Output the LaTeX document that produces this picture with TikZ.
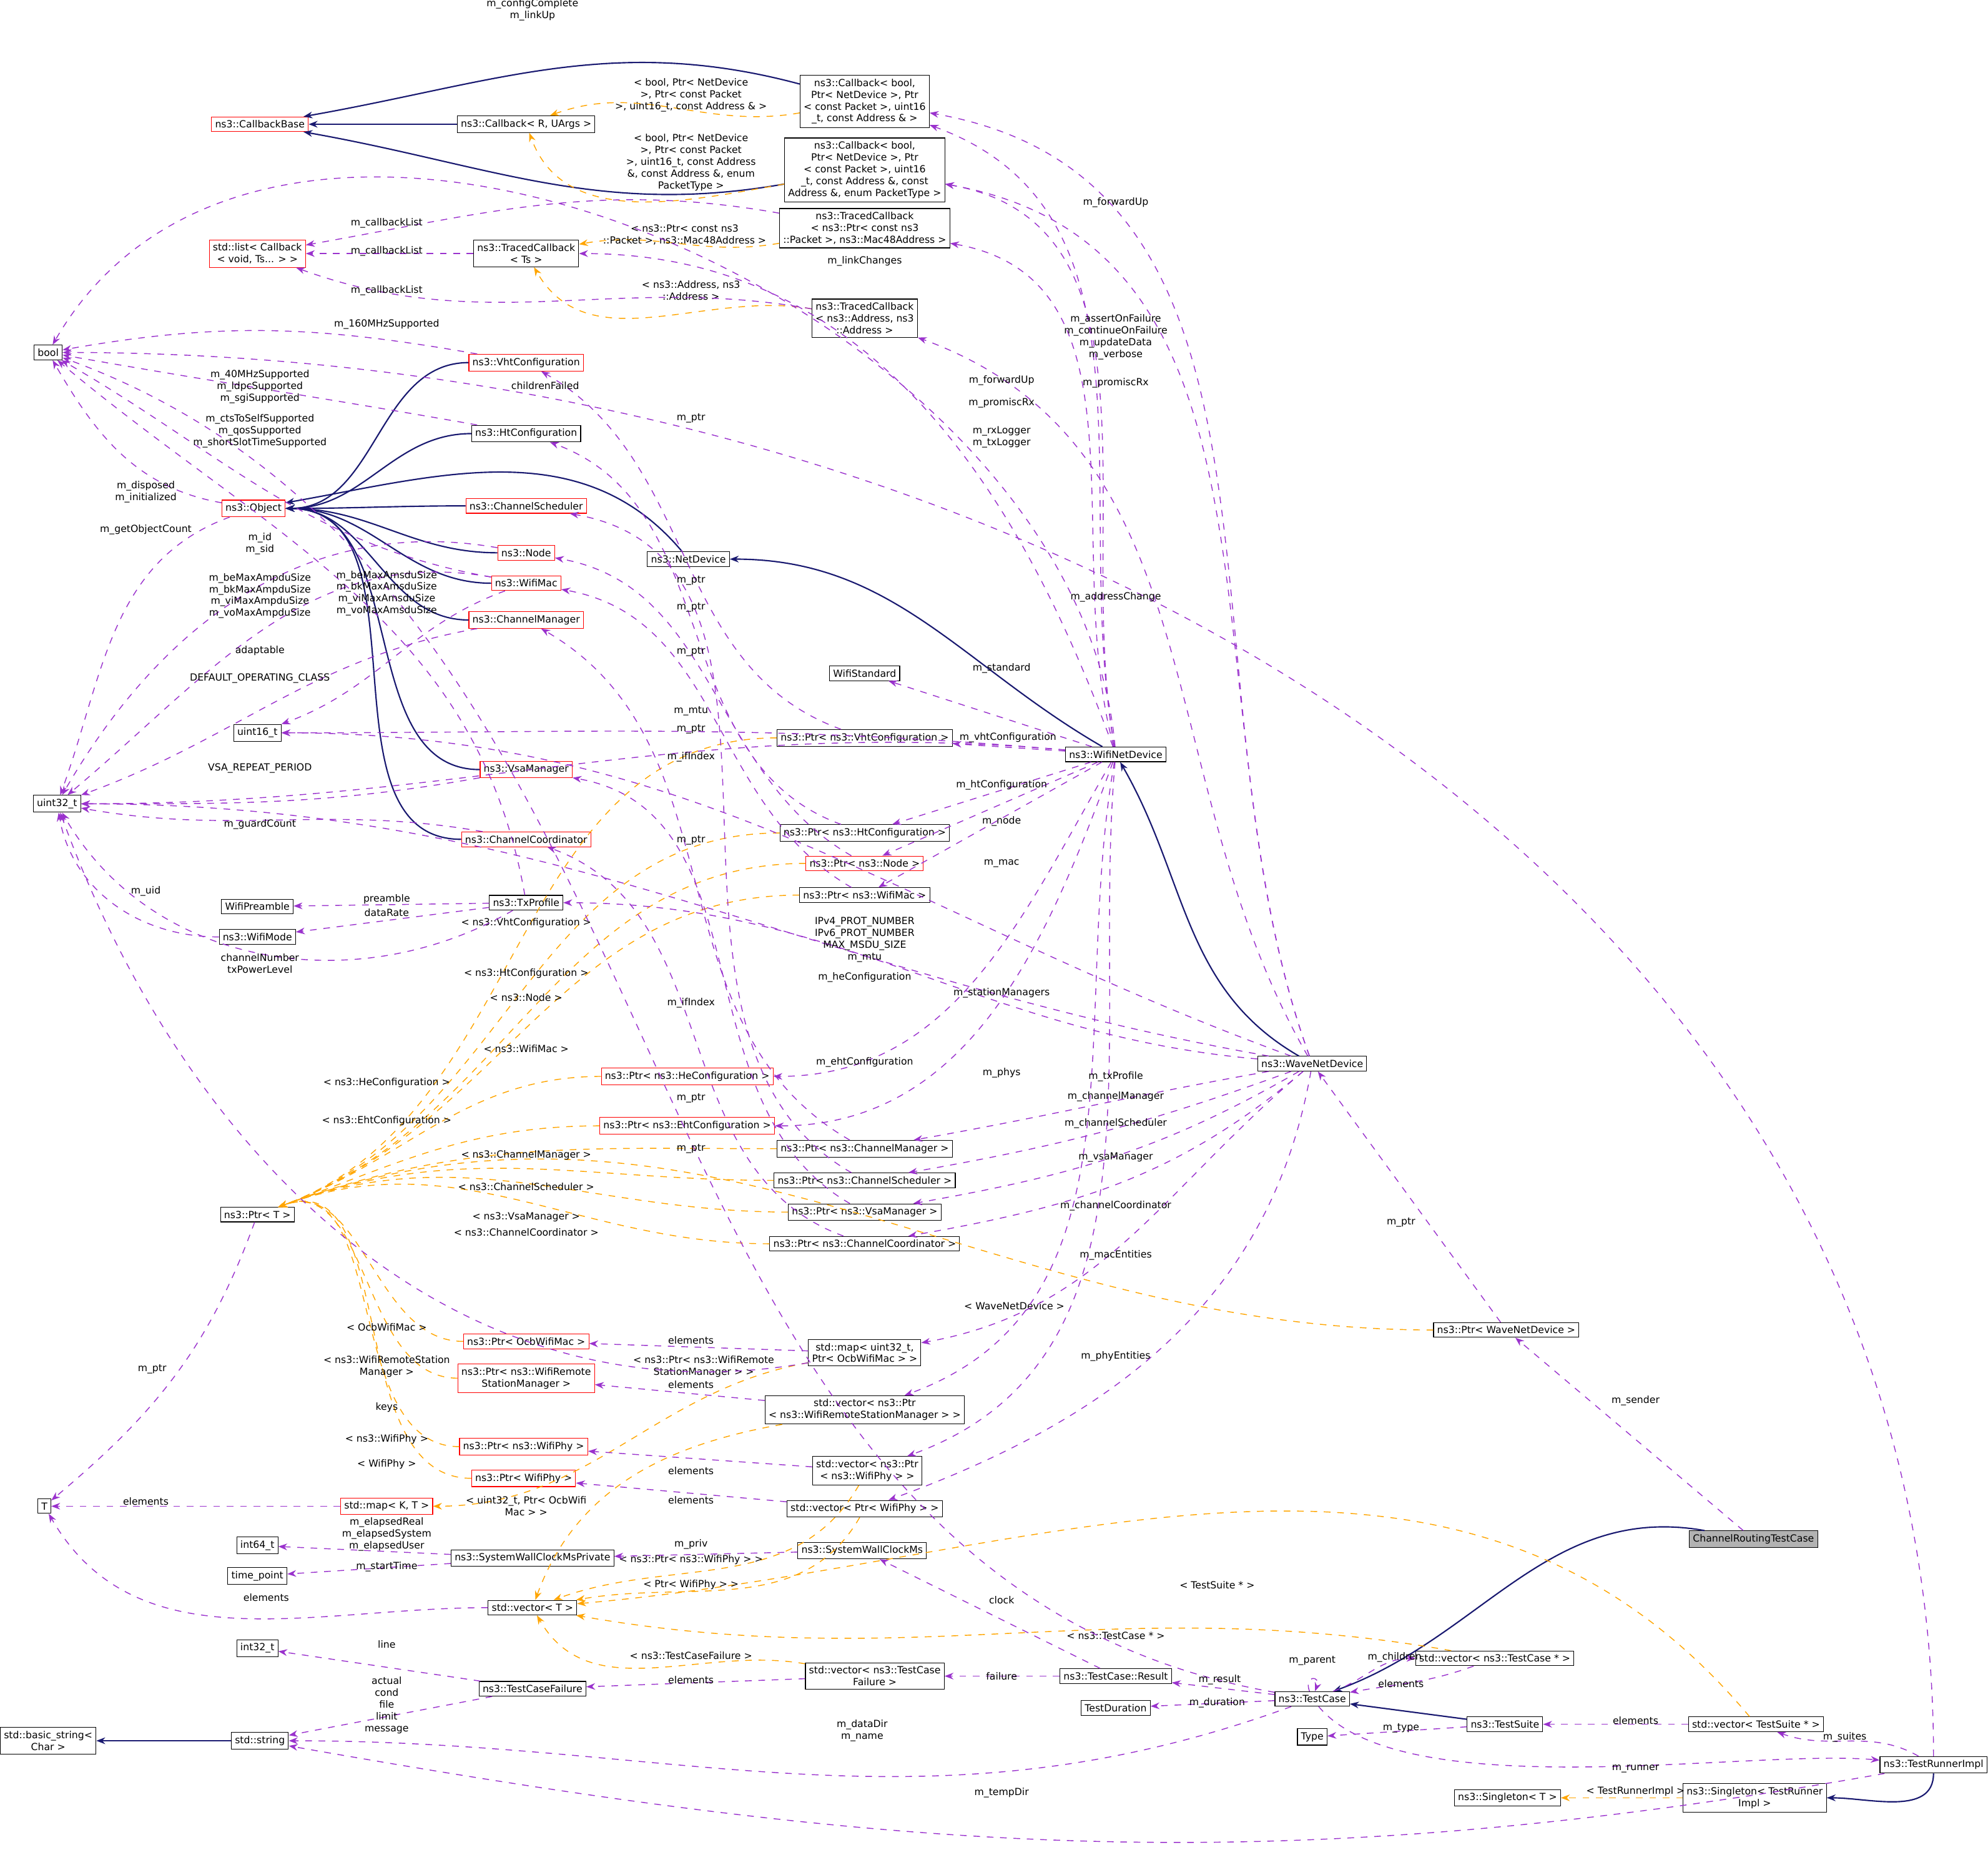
\documentclass[tikz,border=0pt]{standalone}
\usepackage{fontspec}
\setmainfont{DejaVu Sans}
\usetikzlibrary{arrows.meta}
\definecolor{usecol}{HTML}{9A32CD}
\definecolor{tplcol}{HTML}{FFA500}
\definecolor{inhcol}{HTML}{191970}
\begin{document}
\begin{tikzpicture}
        [x=0.02cm, y=-0.02cm, font=\fontsize{4.4}{5.3}\selectfont,
        cls/.style={draw=black,fill=white,inner sep=1.6pt,align=center,line width=0.3pt},
        redcls/.style={cls,draw=red},
        curcls/.style={cls,fill=black!30},
        lbl/.style={align=center,inner sep=0pt},
        inh/.style={-{Stealth[length=4pt]},draw=inhcol,semithick},
        use/.style={-{Stealth[length=4pt]},draw=usecol,dashed,thin},
        tpl/.style={-{Stealth[length=4pt]},draw=tplcol,dashed,thin}]
        \useasboundingbox (0,0) rectangle (1568,1459);
        % classes
        \node (crtc) at (1383,1214) [curcls] {ChannelRoutingTestCase};
        \node (testcase) at (1035,1340) [cls] {ns3::TestCase};
        \node (testsuite) at (1187,1360) [cls] {ns3::TestSuite};
        \node (vecsuite) at (1385,1360) [cls] {std::vector< TestSuite * >};
        \node (runner) at (1525,1392) [cls] {ns3::TestRunnerImpl};
        \node (singrun) at (1384,1418) [cls] {ns3::Singleton< TestRunner\\Impl >};
        \node (singT) at (1189,1418) [cls] {ns3::Singleton< T >};
        \node (type) at (1035,1370) [cls] {Type};
        \node (duration) at (880,1347) [cls] {TestDuration};
        \node (result) at (880,1322) [cls] {ns3::TestCase::Result};
        \node (veccase) at (1179,1308) [cls] {std::vector< ns3::TestCase * >};
        \node (vecfail) at (690,1322) [cls] {std::vector< ns3::TestCase\\Failure >};
        \node (wallclock) at (680,1223) [cls] {ns3::SystemWallClockMs};
        \node (failure) at (420,1332) [cls] {ns3::TestCaseFailure};
        \node (string) at (205,1373) [cls] {std::string};
        \node (basicstr) at (38,1373) [cls] {std::basic\_string<\\Char >};
        \node (int32) at (203,1300) [cls] {int32\_t};
        \node (vecT) at (420,1268) [cls] {std::vector< T >};
        \node (timept) at (203,1243) [cls] {time\_point};
        \node (int64) at (203,1219) [cls] {int64\_t};
        \node (wallpriv) at (420,1229) [cls] {ns3::SystemWallClockMsPrivate};
        \node (T) at (35,1188) [cls] {T};
        \node (mapKT) at (305,1188) [redcls] {std::map< K, T >};
        \node (ptrphy) at (413,1166) [redcls] {ns3::Ptr< WifiPhy >};
        \node (ptrnsphy) at (413,1141) [redcls] {ns3::Ptr< ns3::WifiPhy >};
        \node (vecptrphy) at (682,1190) [cls] {std::vector< Ptr< WifiPhy > >};
        \node (vecnsphy) at (684,1160) [cls] {std::vector< ns3::Ptr\\< ns3::WifiPhy > >};
        \node (ptrrsm) at (415,1087) [redcls] {ns3::Ptr< ns3::WifiRemote\\StationManager >};
        \node (vecrsm) at (682,1112) [cls] {std::vector< ns3::Ptr\\< ns3::WifiRemoteStationManager > >};
        \node (ptrocb) at (415,1058) [redcls] {ns3::Ptr< OcbWifiMac >};
        \node (mapocb) at (682,1067) [cls] {std::map< uint32\_t,\\Ptr< OcbWifiMac > >};
        \node (ptrwave) at (1188,1049) [cls] {ns3::Ptr< WaveNetDevice >};
        \node (ptrT) at (203,958) [cls] {ns3::Ptr< T >};
        \node (ptrcoord) at (682,981) [cls] {ns3::Ptr< ns3::ChannelCoordinator >};
        \node (ptrvsa) at (682,956) [cls] {ns3::Ptr< ns3::VsaManager >};
        \node (ptrsched) at (682,931) [cls] {ns3::Ptr< ns3::ChannelScheduler >};
        \node (ptrchmgr) at (682,906) [cls] {ns3::Ptr< ns3::ChannelManager >};
        \node (ptreht) at (542,888) [redcls] {ns3::Ptr< ns3::EhtConfiguration >};
        \node (ptrhe) at (542,849) [redcls] {ns3::Ptr< ns3::HeConfiguration >};
        \node (wave) at (1035,839) [cls] {ns3::WaveNetDevice};
        \node (wifidev) at (880,595) [cls] {ns3::WifiNetDevice};
        \node (ptrmac) at (682,706) [cls] {ns3::Ptr< ns3::WifiMac >};
        \node (ptrnode) at (682,681) [redcls] {ns3::Ptr< ns3::Node >};
        \node (ptrht) at (682,657) [cls] {ns3::Ptr< ns3::HtConfiguration >};
        \node (ptrvht) at (682,582) [cls] {ns3::Ptr< ns3::VhtConfiguration >};
        \node (standard) at (682,531) [cls] {WifiStandard};
        \node (netdev) at (543,441) [cls] {ns3::NetDevice};
        \node (txprof) at (415,712) [cls] {ns3::TxProfile};
        \node (preamble) at (203,715) [cls] {WifiPreamble};
        \node (wifimode) at (203,739) [cls] {ns3::WifiMode};
        \node (coord) at (415,662) [redcls] {ns3::ChannelCoordinator};
        \node (vsa) at (415,607) [redcls] {ns3::VsaManager};
        \node (uint16) at (203,578) [cls] {uint16\_t};
        \node (uint32) at (45,634) [cls] {uint32\_t};
        \node (chmgr) at (415,489) [redcls] {ns3::ChannelManager};
        \node (wifimac) at (415,460) [redcls] {ns3::WifiMac};
        \node (nodeC) at (415,436) [redcls] {ns3::Node};
        \node (sched) at (415,399) [redcls] {ns3::ChannelScheduler};
        \node (object) at (200,401) [redcls] {ns3::Object};
        \node (htconf) at (415,342) [cls] {ns3::HtConfiguration};
        \node (vhtconf) at (415,286) [redcls] {ns3::VhtConfiguration};
        \node (bool) at (38,278) [cls] {bool};
        \node (list) at (203,200) [redcls] {std::list< Callback\\< void, Ts... > >};
        \node (tcbts) at (415,200) [cls] {ns3::TracedCallback\\< Ts >};
        \node (tcbaddr) at (682,251) [cls] {ns3::TracedCallback\\< ns3::Address, ns3\\::Address >};
        \node (tcbmac) at (682,180) [cls] {ns3::TracedCallback\\< ns3::Ptr< const ns3\\::Packet >, ns3::Mac48Address >};
        \node (cbbase) at (205,98) [redcls] {ns3::CallbackBase};
        \node (cbR) at (415,98) [cls] {ns3::Callback< R, UArgs >};
        \node (cb4) at (682,80) [cls] {ns3::Callback< bool,\\ Ptr< NetDevice >, Ptr\\< const Packet >, uint16\\\_t, const Address \& >};
        \node (cb5) at (682,134) [cls] {ns3::Callback< bool,\\ Ptr< NetDevice >, Ptr\\< const Packet >, uint16\\\_t, const Address \&, const\\ Address \&, enum PacketType >};
        % inheritance
        \draw[inh] (crtc) to[out=170,in=20] (testcase);
        \draw[inh] (testsuite) -- (testcase);
        \draw[inh] (runner) to[out=-90,in=0] (singrun);
        \draw[inh] (string) -- (basicstr);
        \draw[inh] (wave) to[out=150,in=-60] (wifidev);
        \draw[inh] (wifidev) to[out=150,in=0] (netdev);
        \draw[inh] (netdev) to[out=130,in=10] (object);
        \foreach \base in {vhtconf,htconf,sched,nodeC,wifimac,chmgr,vsa,coord}
          \draw[inh] (\base) to[out=180,in=0] (object);
        \draw[inh] (cbR) -- (cbbase);
        \draw[inh] (cb4) to[out=165,in=10] (cbbase);
        \draw[inh] (cb5) to[out=-170,in=-10] (cbbase);
        % templates
        \draw[tpl] (cb4) to[out=-170,in=20] (cbR);
        \draw[tpl] (cb5) to[out=-170,in=-70] (cbR);
        \draw[tpl] (tcbmac) to[out=-170,in=10] (tcbts);
        \draw[tpl] (tcbaddr) to[out=170,in=-60] (tcbts);
        \foreach \src in {ptrvht,ptrht,ptrnode,ptrmac,ptrhe,ptreht,ptrchmgr,ptrsched,ptrvsa,ptrcoord,ptrwave,ptrocb,ptrrsm,ptrnsphy,ptrphy}
          \draw[tpl] (\src) to[out=180,in=20] (ptrT);
        \draw[tpl] (mapocb) to[out=-170,in=0] (mapKT);
        \draw[tpl] (vecrsm) to[out=-170,in=70] (vecT);
        \draw[tpl] (vecnsphy) to[out=-120,in=20] (vecT);
        \draw[tpl] (vecptrphy) to[out=-120,in=10] (vecT);
        \draw[tpl] (vecfail) to[out=170,in=-60] (vecT);
        \draw[tpl] (veccase) to[out=170,in=-10] (vecT);
        \draw[tpl] (vecsuite) to[out=130,in=5] (vecT);
        \draw[tpl] (singrun) -- (singT);
        \node (t1) at (545,75) [lbl] {< bool, Ptr< NetDevice\\>, Ptr< const Packet\\>, uint16\_t, const Address \& >};
        \node (t2) at (545,128) [lbl] {< bool, Ptr< NetDevice\\>, Ptr< const Packet\\>, uint16\_t, const Address\\\&, const Address \&, enum\\PacketType >};
        \node (t3) at (540,185) [lbl] {< ns3::Ptr< const ns3\\::Packet >, ns3::Mac48Address >};
        \node (t4) at (545,229) [lbl] {< ns3::Address, ns3\\::Address >};
        \node (t5) at (415,728) [lbl] {< ns3::VhtConfiguration >};
        \node (t6) at (415,768) [lbl] {< ns3::HtConfiguration >};
        \node (t7) at (415,787) [lbl] {< ns3::Node >};
        \node (t8) at (415,827) [lbl] {< ns3::WifiMac >};
        \node (t9) at (305,854) [lbl] {< ns3::HeConfiguration >};
        \node (t10) at (305,884) [lbl] {< ns3::EhtConfiguration >};
        \node (t11) at (415,911) [lbl] {< ns3::ChannelManager >};
        \node (t12) at (415,936) [lbl] {< ns3::ChannelScheduler >};
        \node (t13) at (415,960) [lbl] {< ns3::VsaManager >};
        \node (t14) at (415,972) [lbl] {< ns3::ChannelCoordinator >};
        \node (t15) at (800,1030) [lbl] {< WaveNetDevice >};
        \node (t16) at (305,1047) [lbl] {< OcbWifiMac >};
        \node (t17) at (305,1078) [lbl] {< ns3::WifiRemoteStation\\Manager >};
        \node (t18) at (305,1135) [lbl] {< ns3::WifiPhy >};
        \node (t19) at (305,1155) [lbl] {< WifiPhy >};
        \node (t20) at (415,1188) [lbl] {< uint32\_t, Ptr< OcbWifi\\Mac > >};
        \node (t21) at (555,1078) [lbl] {< ns3::Ptr< ns3::WifiRemote\\StationManager > >};
        \node (t22) at (545,1230) [lbl] {< ns3::Ptr< ns3::WifiPhy > >};
        \node (t23) at (545,1250) [lbl] {< Ptr< WifiPhy > >};
        \node (t24) at (545,1306) [lbl] {< ns3::TestCaseFailure >};
        \node (t25) at (880,1290) [lbl] {< ns3::TestCase * >};
        \node (t26) at (960,1250) [lbl] {< TestSuite * >};
        \node (t27) at (1290,1413) [lbl] {< TestRunnerImpl >};
        % usage
        \draw[use] (crtc) -- (ptrwave);
        \draw[use] (ptrwave) -- (wave);
        \draw[use] (testcase) to[out=110,in=70,looseness=8] (testcase);
        \draw[use] (veccase) to[out=-160,in=10] (testcase);
        \draw[use] (testcase) to[out=20,in=180] (veccase);
        \draw[use] (testcase) -- (result);
        \draw[use] (testcase) -- (duration);
        \draw[use] (testcase) to[out=-160,in=0] (string);
        \draw[use] (testcase) to[out=-50,in=175,looseness=0.6] (runner);
        \draw[use] (testcase) to[out=170,in=-20] (bool);
        \draw[use] (testsuite) -- (type);
        \draw[use] (vecsuite) -- (testsuite);
        \draw[use] (runner) to[out=150,in=-20] (vecsuite);
        \draw[use] (runner) to[out=-170,in=-10] (string);
        \draw[use] (runner) to[out=90,in=0] (bool);
        \draw[use] (result) -- (vecfail);
        \draw[use] (result) -- (wallclock);
        \draw[use] (vecfail) -- (failure);
        \draw[use] (failure) -- (int32);
        \draw[use] (failure) -- (string);
        \draw[use] (wallclock) -- (wallpriv);
        \draw[use] (wallpriv) -- (int64);
        \draw[use] (wallpriv) -- (timept);
        \draw[use] (vecT) to[out=180,in=-60] (T);
        \draw[use] (mapKT) -- (T);
        \draw[use] (ptrT) to[out=-110,in=40] (T);
        \draw[use] (mapocb) -- (ptrocb);
        \draw[use] (mapocb) to[out=-170,in=-70] (uint32);
        \draw[use] (vecrsm) -- (ptrrsm);
        \draw[use] (vecnsphy) -- (ptrnsphy);
        \draw[use] (vecptrphy) -- (ptrphy);
        \draw[use] (wave) to[out=-100,in=20] (vecptrphy);
        \draw[use] (wave) to[out=-140,in=10] (mapocb);
        \draw[use] (wave) to[out=-140,in=10] (ptrcoord);
        \draw[use] (wave) to[out=-150,in=10] (ptrvsa);
        \draw[use] (wave) to[out=-160,in=10] (ptrsched);
        \draw[use] (wave) to[out=-170,in=10] (ptrchmgr);
        \draw[use] (wave) to[out=175,in=0] (txprof);
        \draw[use] (wave) to[out=170,in=0] (uint32);
        \draw[use] (wave) to[out=160,in=0] (uint16);
        \draw[use] (wave) to[out=110,in=-10] (cb4);
        \draw[use] (wave) to[out=110,in=-10] (cb5);
        \draw[use] (wave) to[out=120,in=-20] (tcbaddr);
        \draw[use] (wifidev) -- (ptrvht);
        \draw[use] (wifidev) -- (ptrht);
        \draw[use] (wifidev) -- (ptrnode);
        \draw[use] (wifidev) -- (ptrmac);
        \draw[use] (wifidev) to[out=-120,in=0] (ptrhe);
        \draw[use] (wifidev) to[out=-110,in=0] (ptreht);
        \draw[use] (wifidev) -- (standard);
        \draw[use] (wifidev) to[out=175,in=0] (uint16);
        \draw[use] (wifidev) to[out=175,in=0] (uint32);
        \draw[use] (wifidev) to[out=-100,in=20] (vecrsm);
        \draw[use] (wifidev) to[out=-95,in=20] (vecnsphy);
        \draw[use] (wifidev) to[out=100,in=-20] (cb4);
        \draw[use] (wifidev) to[out=100,in=-10] (cb5);
        \draw[use] (wifidev) to[out=105,in=-10] (tcbmac);
        \draw[use] (wifidev) to[out=110,in=0] (tcbts);
        \draw[use] (wifidev) to[out=95,in=60] (bool);
        \draw[use] (tcbmac) to[out=170,in=10] (list);
        \draw[use] (tcbts) -- (list);
        \draw[use] (tcbaddr) to[out=170,in=-20] (list);
        \draw[use] (vhtconf) to[out=170,in=10] (bool);
        \draw[use] (htconf) to[out=170,in=-10] (bool);
        \draw[use] (object) to[out=170,in=-60] (bool);
        \draw[use] (object) to[out=-160,in=70] (uint32);
        \draw[use] (nodeC) to[out=170,in=60] (uint32);
        \draw[use] (wifimac) to[out=170,in=40] (uint32);
        \draw[use] (wifimac) to[out=170,in=-30] (bool);
        \draw[use] (wifimac) to[out=-160,in=20] (uint16);
        \draw[use] (chmgr) to[out=-170,in=20] (uint32);
        \draw[use] (vsa) to[out=-170,in=0] (uint32);
        \draw[use] (coord) to[out=170,in=-10] (uint32);
        \draw[use] (txprof) -- (preamble);
        \draw[use] (txprof) -- (wifimode);
        \draw[use] (txprof) to[out=-150,in=-60] (uint32);
        \draw[use] (txprof) to[out=100,in=-40] (bool);
        \draw[use] (wifimode) to[out=180,in=-80] (uint32);
        \draw[use] (ptrvht) to[out=160,in=-30] (vhtconf);
        \draw[use] (ptrht) to[out=160,in=-20] (htconf);
        \draw[use] (ptrnode) to[out=150,in=-10] (nodeC);
        \draw[use] (ptrmac) to[out=150,in=-10] (wifimac);
        \draw[use] (ptrsched) to[out=150,in=-10] (sched);
        \draw[use] (ptrchmgr) to[out=150,in=-30] (chmgr);
        \draw[use] (ptrvsa) to[out=150,in=-10] (vsa);
        \draw[use] (ptrcoord) to[out=160,in=-20] (coord);
        \node (u1) at (1290,1105) [lbl] {m\_sender};
        \node (u2) at (1105,964) [lbl] {m\_ptr};
        \node (u3) at (1035,1310) [lbl] {m\_parent};
        \node (u4) at (1105,1328) [lbl] {elements};
        \node (u5) at (1100,1307) [lbl] {m\_children};
        \node (u6) at (962,1325) [lbl] {m\_result};
        \node (u7) at (960,1343) [lbl] {m\_duration};
        \node (u8) at (680,1365) [lbl] {m\_dataDir\\m\_name};
        \node (u9) at (1290,1395) [lbl] {m\_runner};
        \node (u10) at (1105,1363) [lbl] {m\_type};
        \node (u11) at (1290,1357) [lbl] {elements};
        \node (u12) at (1455,1370) [lbl] {m\_suites};
        \node (u13) at (790,1414) [lbl] {m\_tempDir};
        \node (u14) at (880,266) [lbl] {m\_assertOnFailure\\m\_continueOnFailure\\m\_updateData\\m\_verbose};
        \node (u15) at (790,1322) [lbl] {failure};
        \node (u16) at (790,1262) [lbl] {clock};
        \node (u17) at (545,1325) [lbl] {elements};
        \node (u18) at (305,1297) [lbl] {line};
        \node (u19) at (305,1345) [lbl] {actual\\cond\\file\\limit\\message};
        \node (u20) at (545,1218) [lbl] {m\_priv};
        \node (u21) at (305,1210) [lbl] {m\_elapsedReal\\m\_elapsedSystem\\m\_elapsedUser};
        \node (u22) at (305,1236) [lbl] {m\_startTime};
        \node (u23) at (210,1260) [lbl] {elements};
        \node (u24) at (115,1184) [lbl] {elements};
        \node (u25) at (120,1080) [lbl] {m\_ptr};
        \node (u26) at (545,1057) [lbl] {elements};
        \node (u27) at (305,1110) [lbl] {keys};
        \node (u28) at (545,1092) [lbl] {elements};
        \node (u29) at (545,1160) [lbl] {elements};
        \node (u30) at (545,1183) [lbl] {elements};
        \node (u31) at (880,1070) [lbl] {m\_phyEntities};
        \node (u32) at (880,990) [lbl] {m\_macEntities};
        \node (u33) at (880,951) [lbl] {m\_channelCoordinator};
        \node (u34) at (880,913) [lbl] {m\_vsaManager};
        \node (u35) at (880,886) [lbl] {m\_channelScheduler};
        \node (u36) at (880,865) [lbl] {m\_channelManager};
        \node (u37) at (880,849) [lbl] {m\_txProfile};
        \node (u38) at (545,791) [lbl] {m\_ifIndex};
        \node (u39) at (682,741) [lbl] {IPv4\_PROT\_NUMBER\\IPv6\_PROT\_NUMBER\\MAX\_MSDU\_SIZE\\m\_mtu};
        \node (u40) at (880,160) [lbl] {m\_forwardUp};
        \node (u41) at (880,302) [lbl] {m\_promiscRx};
        \node (u42) at (880,471) [lbl] {m\_addressChange};
        \node (u43) at (795,582) [lbl] {m\_vhtConfiguration};
        \node (u44) at (790,619) [lbl] {m\_htConfiguration};
        \node (u45) at (790,648) [lbl] {m\_node};
        \node (u46) at (790,681) [lbl] {m\_mac};
        \node (u47) at (682,771) [lbl] {m\_heConfiguration};
        \node (u48) at (682,838) [lbl] {m\_ehtConfiguration};
        \node (u49) at (790,527) [lbl] {m\_standard};
        \node (u50) at (545,561) [lbl] {m\_mtu};
        \node (u51) at (545,597) [lbl] {m\_ifIndex};
        \node (u52) at (790,783) [lbl] {m\_stationManagers};
        \node (u53) at (790,846) [lbl] {m\_phys};
        \node (u54) at (790,300) [lbl] {m\_forwardUp};
        \node (u55) at (790,318) [lbl] {m\_promiscRx};
        \node (u56) at (790,345) [lbl] {m\_rxLogger\\m\_txLogger};
        \node (u57) at (682,206) [lbl] {m\_linkChanges};
        \node (u58) at (420,8) [lbl] {m\_configComplete\\m\_linkUp};
        \node (u59) at (305,176) [lbl] {m\_callbackList};
        \node (u60) at (305,198) [lbl] {m\_callbackList};
        \node (u61) at (305,229) [lbl] {m\_callbackList};
        \node (u62) at (305,256) [lbl] {m\_160MHzSupported};
        \node (u63) at (205,305) [lbl] {m\_40MHzSupported\\m\_ldpcSupported\\m\_sgiSupported};
        \node (u64) at (115,388) [lbl] {m\_disposed\\m\_initialized};
        \node (u65) at (115,418) [lbl] {m\_getObjectCount};
        \node (u66) at (205,429) [lbl] {m\_id\\m\_sid};
        \node (u67) at (205,470) [lbl] {m\_beMaxAmpduSize\\m\_bkMaxAmpduSize\\m\_viMaxAmpduSize\\m\_voMaxAmpduSize};
        \node (u68) at (205,340) [lbl] {m\_ctsToSelfSupported\\m\_qosSupported\\m\_shortSlotTimeSupported};
        \node (u69) at (305,468) [lbl] {m\_beMaxAmsduSize\\m\_bkMaxAmsduSize\\m\_viMaxAmsduSize\\m\_voMaxAmsduSize};
        \node (u70) at (205,535) [lbl] {DEFAULT\_OPERATING\_CLASS};
        \node (u71) at (430,304) [lbl] {childrenFailed};
        \node (u72) at (205,606) [lbl] {VSA\_REPEAT\_PERIOD};
        \node (u73) at (205,650) [lbl] {m\_guardCount};
        \node (u74) at (305,709) [lbl] {preamble};
        \node (u75) at (305,720) [lbl] {dataRate};
        \node (u76) at (205,760) [lbl] {channelNumber\\txPowerLevel};
        \node (u77) at (205,513) [lbl] {adaptable};
        \node (u78) at (115,703) [lbl] {m\_uid};
        \node (u79) at (545,330) [lbl] {m\_ptr};
        \node (u80) at (545,458) [lbl] {m\_ptr};
        \node (u81) at (545,479) [lbl] {m\_ptr};
        \node (u82) at (545,514) [lbl] {m\_ptr};
        \node (u83) at (545,575) [lbl] {m\_ptr};
        \node (u84) at (545,663) [lbl] {m\_ptr};
        \node (u85) at (545,866) [lbl] {m\_ptr};
        \node (u86) at (545,906) [lbl] {m\_ptr};
      \end{tikzpicture}
\end{document}
